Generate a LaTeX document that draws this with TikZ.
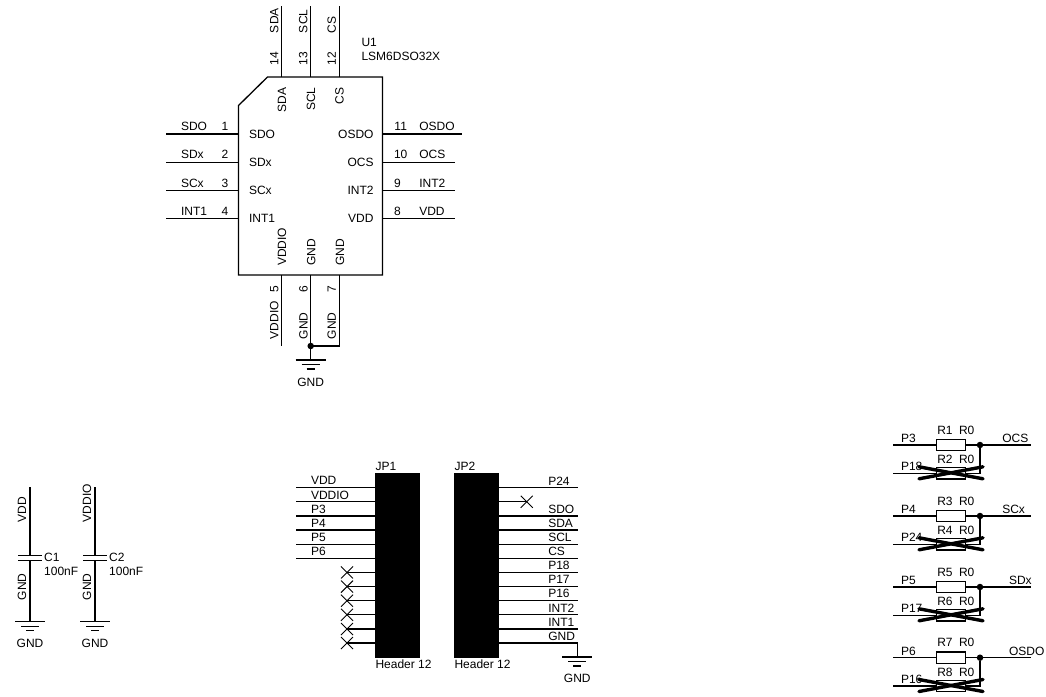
\documentclass[tikz,border=0pt]{standalone}
\usepackage{fontspec}
\setmainfont{Liberation Sans}
\usetikzlibrary{calc}
\tikzset{
  x=1pt,y=-1pt,
  wire/.style={line width=1.3pt,line cap=butt},
  txt/.style={inner sep=0pt,outer sep=0pt,font=\fontsize{12}{12}\selectfont,text=black},
  lw/.style={txt,anchor=base west},
  le/.style={txt,anchor=base east},
  lc/.style={txt,anchor=base},
  rw/.style={txt,anchor=base west,rotate=90},
  re/.style={txt,anchor=base east,rotate=90},
  rc/.style={txt,anchor=base,rotate=90},
  hdr/.style={draw=black,fill=black,line width=0pt,inner sep=0pt,minimum width=44pt,minimum height=184.5pt,anchor=north west},
  res/.style={draw=black,fill=white,line width=1.3pt,inner sep=0pt,minimum width=29pt,minimum height=11.6pt},
  dot/.style={circle,fill=black,inner sep=0pt,minimum size=6.5pt},
  nc/.style={line width=0.9pt},
  cross/.style={line width=3.4pt,line cap=round},
}
% ground symbol: name, x, y of the stem's lower end
\newcommand{\gsym}[3]{%
  \coordinate (#1) at (#2,#3);
  \draw[wire] ($(#1)+(-15,0)$) -- ($(#1)+(15,0)$);
  \draw[wire] ($(#1)+(-9,4.5)$) -- ($(#1)+(9,4.5)$);
  \draw[wire] ($(#1)+(-4,9)$) -- ($(#1)+(4,9)$);
}
\begin{document}
\begin{tikzpicture}
\useasboundingbox (0,0) rectangle (1046,696);
% ---------- U1 ----------
\coordinate (ua) at (238.5,105.5);
\coordinate (ub) at (267.5,77);
\coordinate (uc) at (382.5,77);
\coordinate (ud) at (382.5,275);
\coordinate (ue) at (238.5,275);
\draw[wire,line join=miter] (ua) -- (ub) -- (uc) -- (ud) -- (ue) -- cycle;
% left pins
\foreach \n/\y/\t in {1/134/SDO,2/162.3/SDx,3/190.6/SCx,4/218.7/INT1}{
  \coordinate (lr\n) at (238.5,\y);
  \coordinate (le\n) at (166,\y);
  \draw[wire] (lr\n) -- (le\n);
  \node[lw] (lo\n) at (181,\y-3.5) {\t};
  \node[lc] (ln\n) at (225,\y-3.5) {\n};
  \node[lw] (li\n) at (249,\y+4) {\t};
}
% right pins
\foreach \n/\y/\e/\nx/\t in {11/134/461.6/400.7/OSDO,10/162.3/455/400.7/OCS,9/190.6/455/397.5/INT2,8/218.7/455/397.5/VDD}{
  \coordinate (rr\n) at (382.5,\y);
  \coordinate (re\n) at (\e,\y);
  \draw[wire] (rr\n) -- (re\n);
  \node[lw] (ro\n) at (419.3,\y-3.5) {\t};
  \node[lc] (rn\n) at (\nx,\y-3.5) {\n};
  \node[le] (ri\n) at (373.5,\y+4) {\t};
}
% top pins
\foreach \n/\x/\t in {14/281.7/SDA,13/310.7/SCL,12/339.3/CS}{
  \coordinate (tr\n) at (\x,77);
  \coordinate (te\n) at (\x,6);
  \draw[wire] (tr\n) -- (te\n);
  \node[rw] (to\n) at (\x-3.4,33) {\t};
  \node[rc] (tn\n) at (\x-3.4,58.5) {\n};
  \node[re] (ti\n) at (\x+4.4,87.5) {\t};
}
% bottom pins
\coordinate (br5) at (281.7,275); \coordinate (be5) at (281.7,346);
\coordinate (br6) at (310.7,275); \coordinate (be6) at (310.7,346);
\coordinate (br7) at (339.3,275); \coordinate (be7) at (339.3,346);
\draw[wire] (br5) -- (be5);
\draw[wire] (br6) -- (be6);
\draw[wire,line join=miter] (br7) -- (be7) -- (be6);
\node[rw] (bo5) at (278.3,339) {VDDIO};
\node[rc] (bn5) at (278.3,289) {5};
\node[rw] (bi5) at (286,265.7) {VDDIO};
\node[rw] (bo6) at (307.5,339) {GND};
\node[rc] (bn6) at (307.5,289) {6};
\node[rw] (bi6) at (315.3,265.7) {GND};
\node[rw] (bo7) at (335.9,339) {GND};
\node[rc] (bn7) at (335.9,289) {7};
\node[rw] (bi7) at (344,265.7) {GND};
\node[dot] (j0) at (be6) {};
\gsym{g0}{310.7}{360}
\draw[wire] (j0) -- (g0);
\node[lc] (g0t) at (310.7,386) {GND};
\node[lw] (u1a) at (361.5,46) {U1};
\node[lw] (u1b) at (361.5,60) {LSM6DSO32X};
% ---------- capacitors ----------
\foreach \n/\x/\t in {1/30/VDD,2/95/VDDIO}{
  \coordinate (ct\n) at (\x,487);
  \coordinate (cp\n) at (\x,555.7);
  \coordinate (cq\n) at (\x,560.7);
  \draw[wire] (ct\n) -- (cp\n);
  \draw[wire] ($(cp\n)+(-12,0)$) -- ($(cp\n)+(12,0)$);
  \draw[wire] ($(cq\n)+(-12,0)$) -- ($(cq\n)+(12,0)$);
  \gsym{cg\n}{\x}{621.7}
  \draw[wire] (cq\n) -- (cg\n);
  \node[rw] (cv\n) at (\x-4,522.3) {\t};
  \node[rw] (cw\n) at (\x-4,600) {GND};
  \node[lw] (cn\n) at (\x+14.2,561) {C\n};
  \node[lw] (cf\n) at (\x+14.2,575) {100nF};
  \node[lc] (cx\n) at (\x,647) {GND};
}
% ---------- headers ----------
\node[hdr] (JP1) at (375,473.3) {};
\node[hdr] (JP2) at (454,473.3) {};
\node[lw] (jp1t) at (375.5,470.7) {JP1};
\node[lw] (jp2t) at (454.5,470.7) {JP2};
\node[lw] (jp1h) at (375.5,668.3) {Header 12};
\node[lw] (jp2h) at (454.5,668.3) {Header 12};
\foreach \i/\y/\t in {1/487.7/VDD,2/501.8/VDDIO,3/515.9/P3,4/530/P4,5/544.2/P5,6/558.3/P6}{
  \coordinate (a\i) at (375,\y);
  \coordinate (b\i) at (296,\y);
  \draw[wire] (a\i) -- (b\i);
  \node[lw] (al\i) at (311,\y-2.8) {\t};
}
\foreach \i/\y in {7/572.4,8/586.6,9/600.7,10/614.8,11/629,12/643}{
  \coordinate (a\i) at (375,\y);
  \coordinate (b\i) at (347,\y);
  \draw[wire] (a\i) -- (b\i);
  \draw[nc] ($(b\i)+(-6,-6)$) -- ($(b\i)+(6,6)$);
  \draw[nc] ($(b\i)+(-6,6)$) -- ($(b\i)+(6,-6)$);
}
\foreach \i/\y in {1/487.7,3/515.9,4/530,5/544.2,6/558.3,7/572.4,8/586.6,9/600.7,10/614.8,11/629}{
  \coordinate (c\i) at (498,\y);
  \coordinate (d\i) at (577.7,\y);
  \draw[wire] (c\i) -- (d\i);
}
\foreach \i/\y/\t in {1/485/P24,3/513.3/SDO,4/527.3/SDA,5/541.5/SCL,6/555.5/CS,7/569.5/P18,8/583.5/P17,9/597.8/P16,10/612/INT2,11/626/INT1,12/640/GND}{
  \node[lw] (cl\i) at (548.3,\y) {\t};
}
\coordinate (c2) at (498,501.8);
\coordinate (d2) at (526.7,501.8);
\draw[wire] (c2) -- (d2);
\draw[nc] ($(d2)+(-6,-6)$) -- ($(d2)+(6,6)$);
\draw[nc] ($(d2)+(-6,6)$) -- ($(d2)+(6,-6)$);
\coordinate (c12) at (498,643);
\coordinate (d12) at (577.3,643);
\gsym{g3}{577.3}{657}
\draw[wire,line join=miter] (c12) -- (d12) -- (g3);
\node[lc] (g3t) at (577.3,682) {GND};
% ---------- resistors ----------
\foreach \g/\y/\ra/\rb/\pa/\pb/\ou/\ox in {1/445/1/2/P3/P18/OCS/1002.3,2/516/3/4/P4/P24/SCx/1002.3,3/587/5/6/P5/P17/SDx/1009,4/657.7/7/8/P6/P16/OSDO/1009}{
  \coordinate (ra\g) at (893.3,\y);
  \coordinate (rb\g) at (1030.7,\y);
  \coordinate (sa\g) at (893.3,\y+28.3);
  \coordinate (sb\g) at (980,\y+28.3);
  \node[res] (R\ra) at (951.2,\y) {};
  \node[res] (R\rb) at (951.2,\y+28.3) {};
  \node[dot] (J\g) at (980,\y) {};
  \draw[wire] (ra\g) -- (R\ra);
  \draw[wire] (R\ra) -- (rb\g);
  \draw[wire] (sa\g) -- (R\rb);
  \draw[wire,line join=miter] (R\rb) -- (sb\g) -- (J\g);
  \node[lw] (ta\g) at (937.3,\y-11) {R\ra};
  \node[lw] (tb\g) at (959,\y-11) {R0};
  \node[lw] (tc\g) at (937.3,\y+18.3) {R\rb};
  \node[lw] (td\g) at (959,\y+18.3) {R0};
  \node[lw] (te\g) at (901,\y-2.3) {\pa};
  \node[lw] (tf\g) at (901,\y+25.7) {\pb};
  \node[lw] (tg\g) at (\ox,\y-2.3) {\ou};
  \draw[cross] (919,\y+33.8) -- (983,\y+21.8);
  \draw[cross] (919,\y+21.8) -- (983,\y+33.8);
}
\end{tikzpicture}
\end{document}
